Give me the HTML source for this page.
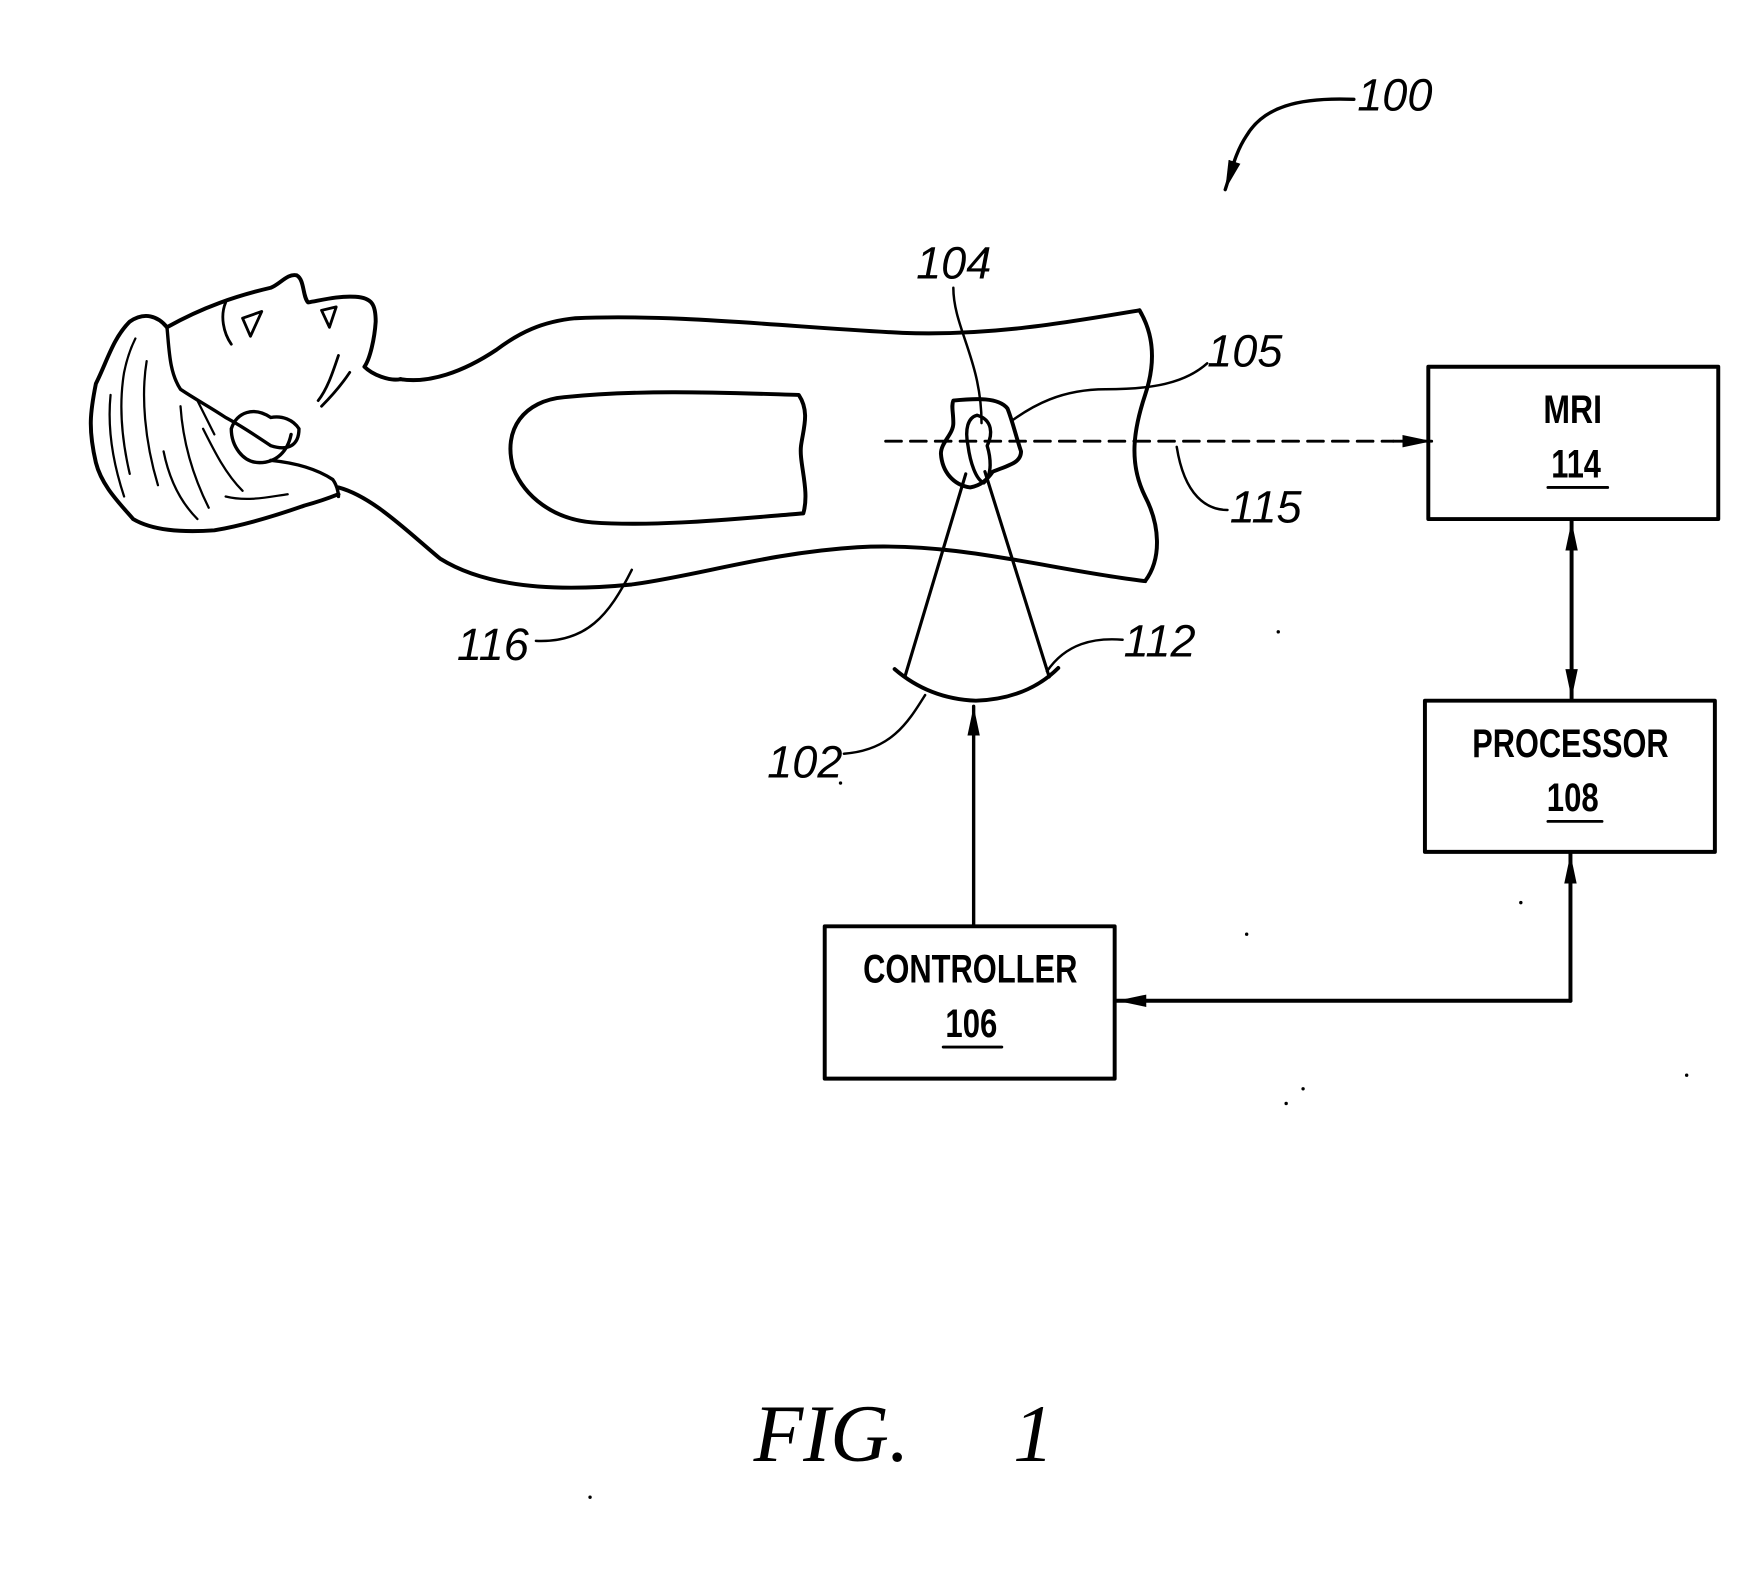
<!DOCTYPE html>
<html><head><meta charset="utf-8"><style>
html,body{margin:0;padding:0;background:#fff;}
svg{display:block;}
.t{font-family:"Liberation Sans",sans-serif;font-style:italic;font-size:40px;fill:#000;}
.b{font-family:"Liberation Sans",sans-serif;font-size:35px;font-weight:bold;fill:#000;}
</style></head><body>
<svg width="1760" height="1583" viewBox="0 0 1560 1403" xmlns="http://www.w3.org/2000/svg">
<defs>
<marker id="ah" viewBox="0 0 26 12" refX="26" refY="6" markerWidth="26" markerHeight="12" markerUnits="userSpaceOnUse" orient="auto-start-reverse">
<path d="M0,0.5 L26,6 L0,11.5 Z" fill="#000"/></marker>
</defs>
<g fill="none" stroke="#000" stroke-linecap="round" stroke-linejoin="round">
<path d="M1200,88 C1150,86 1120,95 1105,120 C1095,135 1092,150 1086,168" stroke-width="3" marker-end="url(#ah)"/>
<!-- head -->
<path d="M148,290 C180,272 210,262 240,255 C248,252 255,242 263,244 C270,248 268,262 273,268 C285,266 300,262 315,263 C330,264 333,270 333,285 C332,300 328,318 323,325 C330,332 345,338 355,336" stroke-width="3.5"/>
<path d="M148,290 C140,280 128,276 115,285 C100,300 95,320 85,340 C80,365 78,380 85,410 C90,430 105,445 118,460 C135,470 160,472 190,470 C220,465 250,455 270,448 C285,444 295,440 300,438" stroke-width="3.5"/>
<path d="M148,290 C150,310 150,330 160,345 C175,355 185,360 200,370 C215,378 225,385 240,395 C255,400 265,395 265,380 C260,372 250,368 240,370 C225,360 210,365 205,380 C205,395 215,410 230,410 C245,410 255,400 258,385" stroke-width="3"/>
<path d="M240,408 C260,410 280,415 295,425 C300,432 300,440 300,440" stroke-width="3"/>
<path d="M215,282 L232,276 L222,298 Z M200,268 C195,280 198,295 205,305 M285,275 L298,272 L292,290 Z M300,315 C295,330 290,345 282,355 M310,330 C300,345 290,355 285,360" stroke-width="2.5"/>
<path d="M110,330 C105,360 108,390 115,420 M130,320 C125,350 128,390 140,430 M160,360 C162,390 170,420 185,450 M180,380 C190,400 200,420 215,435 M98,350 C95,380 100,410 110,440 M145,400 C150,425 160,445 175,460 M200,440 C220,445 240,440 255,438 M120,300 C115,310 112,320 110,330 M175,355 C180,365 185,375 190,385" stroke-width="2"/>
<!-- body -->
<path d="M355,336 C380,340 410,330 440,310 C460,295 480,285 510,282 C600,278 700,290 800,295 C880,298 950,285 1010,275" stroke-width="3.5"/>
<path d="M1010,275 C1022,295 1025,320 1015,350 C1005,380 1000,410 1015,440 C1028,465 1030,495 1015,515" stroke-width="3.5"/>
<path d="M300,432 C330,440 360,470 390,495 C430,520 490,525 560,518 C620,510 680,490 760,485 C850,480 930,505 1015,515" stroke-width="3.5"/>
<path d="M500,352 C570,345 640,348 708,350 C718,365 712,380 710,395 C708,410 718,435 712,455 C650,460 580,467 525,463 C490,460 465,440 455,415 C445,380 465,355 500,352 Z" stroke-width="3.5"/>
<!-- target -->
<path d="M845,355 C865,353 885,352 893,362 C898,375 900,385 905,400 C905,410 895,412 880,418 C875,425 870,430 860,432 C845,430 835,418 834,402 C834,392 845,385 845,375 C845,365 843,360 845,355 Z" stroke-width="3.5"/>
<path d="M866,368 C858,370 855,380 858,395 C860,410 865,425 872,428 C880,420 878,405 875,395 C880,385 880,372 866,368 Z" stroke-width="3"/>
<path d="M785,391 L1235,391" stroke-width="2.5" stroke-dasharray="14,8"/>
<path d="M1235,391 L1269,391" stroke-width="2.5" marker-end="url(#ah)"/>
<!-- leaders -->
<path d="M845,255 C845,290 870,320 870,375" stroke-width="2.2"/>
<path d="M1070,322 C1050,340 1020,345 980,345 C940,345 915,360 898,372" stroke-width="2.2"/>
<path d="M1088,452 C1070,452 1050,440 1043,396" stroke-width="2.2"/>
<path d="M995,567 C970,565 945,570 928,595" stroke-width="2.2"/>
<path d="M748,668 C790,665 805,640 820,616" stroke-width="2.2"/>
<path d="M475,568 C520,570 540,545 560,505" stroke-width="2.2"/>
<!-- beam -->
<path d="M856,420 L802,600 M873,418 L930,600" stroke-width="2.8"/>
<path d="M793,593 C815,612 840,620 865,621 C895,620 920,610 938,592" stroke-width="3.5"/>
<path d="M863,820 L863,626" stroke-width="3" marker-end="url(#ah)"/>
<!-- boxes -->
<rect x="731" y="821" width="257" height="135" stroke-width="3.5"/>
<rect x="1266" y="325" width="257" height="135" stroke-width="3.5"/>
<rect x="1263" y="621" width="257" height="134" stroke-width="3.5"/>
<path d="M1393,462 L1393,619" stroke-width="3.5" marker-start="url(#ah)" marker-end="url(#ah)"/>
<path d="M1392,887 L1392,757" stroke-width="3.5" marker-end="url(#ah)"/>
<path d="M1392,887 L990,887" stroke-width="3.5" marker-end="url(#ah)"/>
<path d="M1372,432 L1425,432 M1372,728 L1420,728 M836,928 L888,928" stroke-width="2.5"/>
</g>
<g fill="#000">
<circle cx="1133" cy="560" r="1.5"/><circle cx="1105" cy="828" r="1.5"/><circle cx="1348" cy="800" r="1.5"/>
<circle cx="1155" cy="965" r="1.5"/><circle cx="1140" cy="978" r="1.5"/><circle cx="1495" cy="953" r="1.5"/>
<circle cx="523" cy="1327" r="1.5"/><circle cx="745" cy="694" r="1.5"/>
</g>
<text class="t" x="1203" y="98">100</text>
<text class="t" x="812" y="247">104</text>
<text class="t" x="1070" y="325">105</text>
<text class="t" x="1090" y="463">115</text>
<text class="t" x="996" y="582">112</text>
<text class="t" x="680" y="689">102</text>
<text class="t" x="405" y="585">116</text>
<text class="b" x="1394" y="375" text-anchor="middle" textLength="52" lengthAdjust="spacingAndGlyphs">MRI</text>
<text class="b" x="1397" y="423" text-anchor="middle" textLength="44" lengthAdjust="spacingAndGlyphs">114</text>
<text class="b" x="1392" y="671" text-anchor="middle" textLength="174" lengthAdjust="spacingAndGlyphs">PROCESSOR</text>
<text class="b" x="1394" y="719" text-anchor="middle" textLength="46" lengthAdjust="spacingAndGlyphs">108</text>
<text class="b" x="860" y="871" text-anchor="middle" textLength="190" lengthAdjust="spacingAndGlyphs">CONTROLLER</text>
<text class="b" x="861" y="919" text-anchor="middle" textLength="46" lengthAdjust="spacingAndGlyphs">106</text>
<text x="668" y="1295" font-family="Liberation Serif,serif" font-style="italic" font-size="72">FIG.</text>
<text x="898" y="1295" font-family="Liberation Serif,serif" font-style="italic" font-size="72">1</text>
</svg>
</body></html>
